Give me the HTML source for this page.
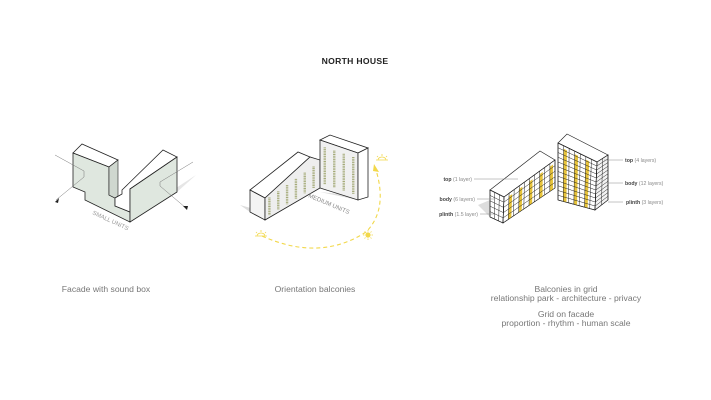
<!DOCTYPE html>
<html><head><meta charset="utf-8"><style>
html,body{margin:0;padding:0;background:#fff;}
body{width:711px;height:400px;overflow:hidden;position:relative;font-family:"Liberation Sans",sans-serif;}
svg{position:absolute;left:0;top:0;}
.cap{font-size:8.6px;fill:#777;}
.lab{font-size:5.2px;fill:#888;}
</style></head><body>
<svg id="s" width="711" height="400" viewBox="0 0 711 400">
<text x="355" y="64" text-anchor="middle" font-size="8.6" font-weight="bold" fill="#222" letter-spacing="0.3">NORTH HOUSE</text>

<!-- LEFT DIAGRAM -->
<polygon points="130,222 177,192 196,175 150,205" fill="#e6e6e6"/>
<polygon points="73,153 82,144 118,160 109,167" fill="#fff" stroke="#222" stroke-width="0.8"/>
<polygon points="73,153 109,167 109,195 115,198 115,206 130,212 130,222 85,200 85,192 73,187" fill="#dfe7df" stroke="#222" stroke-width="0.8"/>
<polygon points="109,167 118,160 118,196 115,198 109,195" fill="#cfd7cf" stroke="#222" stroke-width="0.6"/>
<polygon points="115,198 122,194 122,190 163,150 177,157 130,189 130,212 115,206" fill="#fff" stroke="#222" stroke-width="0.8"/>
<polygon points="130,189 177,157 177,192 130,222" fill="#dfe7df" stroke="#222" stroke-width="0.8"/>
<polyline points="55,155 84,171 84,177 56,200" fill="none" stroke="#777" stroke-width="0.5"/>
<polygon points="55,202 59,198 58,203" fill="#222"/>
<polyline points="193,162 160,182 160,186 186,208" fill="none" stroke="#777" stroke-width="0.5"/>
<polygon points="187,210 183,206 188,206" fill="#222"/>
<text x="92" y="214" font-size="6" fill="#999" transform="rotate(25 92 214)">SMALL UNITS</text>

<!-- MIDDLE DIAGRAM -->
<polygon points="240,205 250,212 265,220 265,212" fill="#ddd"/>
<polygon points="320,192 358,200 375,195 368,197" fill="#ddd"/>
<polygon points="250,190 298,152 310,157 265,198" fill="#fff" stroke="#222" stroke-width="0.8"/>
<polygon points="250,190 265,198 265,220 250,212" fill="#f4f4f4" stroke="#222" stroke-width="0.8"/>
<polygon points="265,198 310,157 320,160 320,188 265,220" fill="#eee" stroke="#222" stroke-width="0.8"/>
<polygon points="320,140 330,135 368,148 358,153" fill="#fff" stroke="#222" stroke-width="0.8"/>
<polygon points="320,140 358,153 358,200 320,188" fill="#f0f0f0" stroke="#222" stroke-width="0.8"/>
<polygon points="358,153 368,148 368,197 358,200" fill="#fff" stroke="#222" stroke-width="0.8"/>
<g id="stripes"></g>
<text x="308" y="197" font-size="6" fill="#888" transform="rotate(23 308 197)">MEDIUM UNITS</text>
<path d="M262,236 Q320,262 366,232 Q388,210 376,170" fill="none" stroke="#f2d84a" stroke-width="1.1" stroke-dasharray="4,3"/>
<polygon points="374,164 379,172 373,171" fill="#f2d84a"/>
<g stroke="#f2d84a" stroke-width="0.8" fill="none">
<path d="M257,236 a4,3 0 0 1 8,0 Z M255,236 h12 M261,230 v2 M256,232 l1,1 M266,232 l-1,1"/>
<path d="M378,160 a4,3 0 0 1 8,0 Z M376,160 h12 M382,154 v2 M377,156 l1,1 M387,156 l-1,1"/>
<circle cx="368" cy="235" r="2.2" fill="#f2d84a"/>
<path d="M368,230 v1.5 M368,238.5 v1.5 M363,235 h1.5 M371.5,235 h1.5 M364.5,231.5 l1,1 M370.5,237.5 l1,1 M371.5,231.5 l-1,1 M365.5,237.5 l-1,1"/>
</g>

<!-- RIGHT DIAGRAM -->
<polygon points="478,205 490,200 503,223 490,217" fill="#ddd"/>
<polygon points="490,190 540,151 555,160 504,197" fill="#fff" stroke="#222" stroke-width="0.7"/>
<polygon points="490,190 504,197 503,223 490,217" fill="#fff" stroke="#222" stroke-width="0.7"/>
<polygon points="504,197 555,160 555,188 503,223" fill="#fff" stroke="#222" stroke-width="0.7"/>
<polygon points="558,143 567,134 608,155 597,162" fill="#fff" stroke="#222" stroke-width="0.7"/>
<polygon points="558,143 597,162 595,210 558,200" fill="#fff" stroke="#222" stroke-width="0.7"/>
<polygon points="597,162 608,155 608,200 595,210" fill="#f2f2f2" stroke="#222" stroke-width="0.7"/>
<g id="grid"></g>
<g stroke="#888" stroke-width="0.5">
<line x1="474" y1="179" x2="518" y2="179"/><line x1="477" y1="199" x2="494" y2="199"/><line x1="480" y1="214" x2="494" y2="214"/>
<line x1="604" y1="160" x2="623" y2="160"/><line x1="608" y1="183" x2="623" y2="183"/><line x1="608" y1="202" x2="623" y2="202"/>
</g>
<text class="lab" x="472" y="181" text-anchor="end"><tspan font-weight="bold" fill="#444">top</tspan> (1 layer)</text>
<text class="lab" x="475" y="201" text-anchor="end"><tspan font-weight="bold" fill="#444">body</tspan> (6 layers)</text>
<text class="lab" x="478" y="216" text-anchor="end"><tspan font-weight="bold" fill="#444">plinth</tspan> (1.5 layer)</text>
<text class="lab" x="625" y="162"><tspan font-weight="bold" fill="#444">top</tspan> (4 layers)</text>
<text class="lab" x="625" y="185"><tspan font-weight="bold" fill="#444">body</tspan> (12 layers)</text>
<text class="lab" x="626" y="204"><tspan font-weight="bold" fill="#444">plinth</tspan> (3 layers)</text>

<text class="cap" x="106" y="292" text-anchor="middle">Facade with sound box</text>
<text class="cap" x="315" y="292" text-anchor="middle">Orientation balconies</text>
<text class="cap" x="566" y="292" text-anchor="middle">Balconies in grid</text>
<text class="cap" x="566" y="301" text-anchor="middle">relationship park - architecture - privacy</text>
<text class="cap" x="566" y="317" text-anchor="middle">Grid on facade</text>
<text class="cap" x="566" y="326" text-anchor="middle">proportion - rhythm - human scale</text>
</svg>
<script>
var NS="http://www.w3.org/2000/svg";
function L(g,x1,y1,x2,y2,c,w,d){var l=document.createElementNS(NS,"line");l.setAttribute("x1",x1);l.setAttribute("y1",y1);l.setAttribute("x2",x2);l.setAttribute("y2",y2);l.setAttribute("stroke",c);l.setAttribute("stroke-width",w);if(d)l.setAttribute("stroke-dasharray",d);g.appendChild(l);}
function P(a,b,t){return [a[0]+(b[0]-a[0])*t,a[1]+(b[1]-a[1])*t];}
function face(g,tl,tr,br,bl,nu,nv,c,w,yellow){
 for(var i=0;i<=nu;i++){var t=i/nu;var a=P(tl,tr,t),b=P(bl,br,t);
  if(yellow&&i%2==1&&i<nu){var t2=(i+0.6)/nu;var a2=P(tl,tr,t2),b2=P(bl,br,t2);
   var p=document.createElementNS(NS,"polygon");p.setAttribute("points",a[0]+","+(a[1]+3)+" "+a2[0]+","+(a2[1]+3)+" "+b2[0]+","+b2[1]+" "+b[0]+","+b[1]);p.setAttribute("fill","#e8c43a");g.appendChild(p);}
  L(g,a[0],a[1],b[0],b[1],c,w);}
 for(var j=0;j<=nv;j++){var t=j/nv;var a=P(tl,bl,t),b=P(tr,br,t);L(g,a[0],a[1],b[0],b[1],c,w);}
}
var st=document.getElementById("stripes");
function stripes(tl,tr,br,bl,n){for(var i=0;i<n;i++){var t=(i+0.5)/n;var a=P(tl,tr,t),b=P(bl,br,t);
 var p1=P(a,b,0.12),p2=P(a,b,0.9);L(st,p1[0],p1[1],p2[0],p2[1],"#a4aa78",2.4,"1,0.7");}}
stripes([265,198],[318,160],[318,188],[265,220],6);
stripes([320,140],[358,153],[358,200],[320,188],4);
var g=document.getElementById("grid");
face(g,[504,197],[555,160],[555,188],[503,223],10,5,"#222",0.5,true);
face(g,[490,190],[504,197],[503,223],[490,217],3,5,"#222",0.5,false);
face(g,[558,143],[597,162],[595,210],[558,200],7,12,"#222",0.5,true);
face(g,[597,162],[608,155],[608,200],[595,210],2,12,"#222",0.5,false);
</script>
</body></html>
